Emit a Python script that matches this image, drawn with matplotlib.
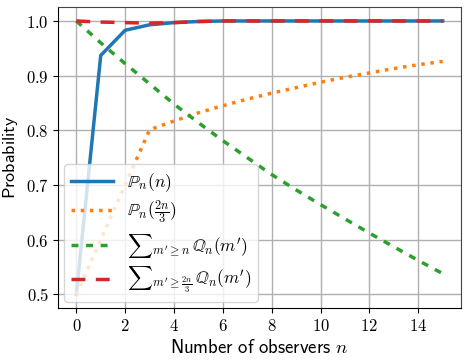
import matplotlib
matplotlib.use("Agg")
import matplotlib.pyplot as plt
import numpy as np

n = list(range(16))
p_n = [0.5, 0.937, 0.983, 0.993, 0.997, 0.999, 1.0, 1.0, 1.0, 1.0, 1.0, 1.0, 1.0, 1.0, 1.0, 1.0]
p_2n3 = [0.5, 0.6, 0.7, 0.801, 0.817, 0.832, 0.845, 0.857, 0.868, 0.878, 0.888, 0.897, 0.905, 0.913, 0.920, 0.926]
q_ge_n = [1.0, 0.960, 0.922, 0.885, 0.848, 0.814, 0.781, 0.750, 0.719, 0.691, 0.664, 0.638, 0.612, 0.587, 0.562, 0.538]
q_ge_2n3 = [1.0, 0.998, 0.997, 0.996, 0.997, 0.999, 1.0, 1.0, 1.0, 1.0, 1.0, 1.0, 1.0, 1.0, 1.0, 1.0]

labels = [r"$\mathbb{P}_n(n)$",
          r"$\mathbb{P}_n(\frac{2n}{3})$",
          r"$\sum{}_{m' \geq n}\, \mathbb{Q}_n(m')$",
          r"$\sum{}_{m' \geq \frac{2n}{3}}\, \mathbb{Q}_n(m')$"]

plt.rcParams['mathtext.fontset'] = 'cm'
plt.rcParams['font.family'] = ['DejaVu Sans']

fig = plt.figure(figsize=(4.69, 3.6), dpi=100)
ax = fig.add_axes([58/469, 1 - 308/360, (461-58)/469, (308-7.3)/360])

lw = 2.5
ax.plot(n, p_n, color='#1f77b4', lw=lw, ls='-', label=labels[0])
ax.plot(n, p_2n3, color='#ff7f0e', lw=lw, ls=':', label=labels[1])
ax.plot(n, q_ge_n, color='#2ca02c', lw=lw, ls=(0, (2, 2.2)), label=labels[2])
ax.plot(n, q_ge_2n3, color='#d62728', lw=lw, ls=(0, (4, 3)), label=labels[3])

ax.set_xlim(-0.75, 15.75)
ax.set_ylim(0.475, 1.025)
ax.set_xticks(range(0, 16, 2))
ax.set_yticks([0.5, 0.6, 0.7, 0.8, 0.9, 1.0])
ax.set_xticklabels([f"${v}$" for v in range(0, 16, 2)])
ax.set_yticklabels([f"${v:.1f}$" for v in [0.5, 0.6, 0.7, 0.8, 0.9, 1.0]])
ax.tick_params(labelsize=12, direction='out', length=3.5, width=0.8, pad=3)
ax.grid(True, color='#b0b0b0', lw=1.0)
ax.set_axisbelow(True)
for s in ['top', 'right']:
    ax.spines[s].set_color('#444444')
for s in ['left', 'bottom']:
    ax.spines[s].set_color('black')

ax.set_xlabel(r"$\mathsf{Number\ of\ observers}\ n$", fontsize=13.5, labelpad=2)
ax.set_ylabel(r"$\mathsf{Probability}$", fontsize=13, labelpad=4)

leg = ax.legend(loc='lower left', fontsize=12.5, handlelength=2.4, borderaxespad=0.35,
                framealpha=0.8, edgecolor='#cccccc', fancybox=True, labelspacing=0.3)

fig.savefig("out.png", dpi=100)
